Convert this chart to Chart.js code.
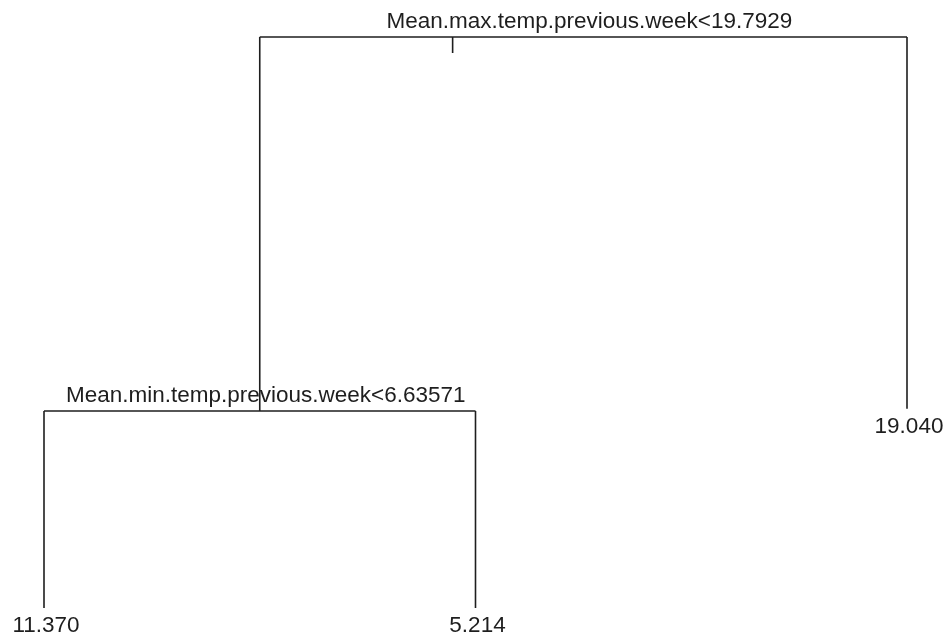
<!DOCTYPE html>
<html>
<head>
<meta charset="utf-8">
<script src="https://cdn.jsdelivr.net/npm/chart.js@4"></script>
<style>
html,body{margin:0;padding:0;background:#fff;}
#wrap{width:945px;height:639px;position:relative;}
</style>
</head>
<body>
<div id="wrap"><canvas id="c"></canvas></div>
<script>
// Regression tree: nodes in R numbering (1 root, 2*k left child, 2*k+1 right child)
const nodeIds     = [1, 2, 3, 4, 5];
const nodeHeights = [100, 34.5, 34.9, 0, 0];      // vertical position (deviance scale)
const nodeLabels  = [
  'Mean.max.temp.previous.week<19.7929',
  'Mean.min.temp.previous.week<6.63571',
  '19.040',
  '11.370',
  '5.214'
];
const leafOrder = [4, 5, 3];                     // leaves left to right
const stemMark  = [1.947, 100, 97.2];            // small stem mark under root line (x, y from, y to)

// --- build positions through the tree structure ---
const isLeaf = id => !nodeIds.includes(2*id);
const posX = {};
leafOrder.forEach((id, i) => posX[id] = i + 1);
function computeX(id){
  if (posX[id] !== undefined) return posX[id];
  posX[id] = (computeX(2*id) + computeX(2*id+1)) / 2;
  return posX[id];
}
computeX(1);
const posY = {};
nodeIds.forEach((id, i) => posY[id] = nodeHeights[i]);
const label = {};
nodeIds.forEach((id, i) => label[id] = nodeLabels[i]);

const lineColor = '#1e1e1e';
const segs = [];
nodeIds.forEach(id => {
  if (!isLeaf(id)) {
    const l = 2*id, r = 2*id+1;
    segs.push([{x: posX[l], y: posY[id]}, {x: posX[r], y: posY[id]}]);
    segs.push([{x: posX[l], y: posY[id]}, {x: posX[l], y: posY[l]}]);
    segs.push([{x: posX[r], y: posY[id]}, {x: posX[r], y: posY[r]}]);
  }
});
segs.push([{x: stemMark[0], y: stemMark[1]}, {x: stemMark[0], y: stemMark[2]}]);

const datasets = segs.map(s => ({
  data: s, showLine: true, pointRadius: 0, borderColor: lineColor,
  borderWidth: 1.6, fill: false, clip: false, tension: 0
}));

const textPlugin = {
  id: 'treeText',
  afterDatasetsDraw(chart) {
    const {ctx, scales} = chart;
    ctx.save();
    ctx.fillStyle = '#1e1e1e';
    ctx.font = '22.5px "Liberation Sans", Arial, sans-serif';
    ctx.textAlign = 'center';
    ctx.textBaseline = 'alphabetic';
    nodeIds.forEach(id => {
      const px = scales.x.getPixelForValue(posX[id]);
      const py = scales.y.getPixelForValue(posY[id]);
      if (isLeaf(id)) {
        ctx.fillText(label[id], px + 2, py + 24);
      } else {
        ctx.fillText(label[id], px + 6, py - 9.5);
      }
    });
    ctx.restore();
  }
};

new Chart(document.getElementById('c'), {
  type: 'scatter',
  data: { datasets },
  options: {
    responsive: true,
    maintainAspectRatio: false,
    animation: false,
    layout: { padding: { left: 44, right: 38, top: 37, bottom: 31 } },
    plugins: { legend: { display: false }, tooltip: { enabled: false } },
    scales: {
      x: { type: 'linear', min: 1, max: 3, display: false },
      y: { type: 'linear', min: 0, max: 100, display: false }
    }
  },
  plugins: [textPlugin]
});
</script>
</body>
</html>
